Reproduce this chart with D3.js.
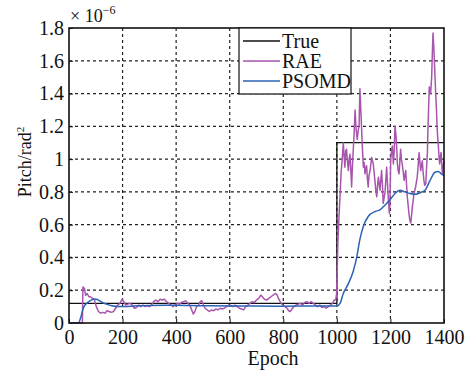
<!DOCTYPE html>
<html>
<head>
<meta charset="utf-8">
<script src="https://cdn.jsdelivr.net/npm/d3@7"></script>
<style>
  body { margin: 0; background: #fff; }
  svg text { font-family: "Liberation Serif", "DejaVu Serif", serif; fill: #111; }
</style>
</head>
<body>
<div id="chart"></div>
<script>
// tick labels
const xTicks = [0, 200, 400, 600, 800, 1000, 1200, 1400];
const yTicks = [0, 0.2, 0.4, 0.6, 0.8, 1.0, 1.2, 1.4, 1.6, 1.8];

// True (step)
const trueEpoch = [0, 1000, 1000, 1400];
const trueValue = [0.12, 0.12, 1.1, 1.1];

// RAE estimate (x 1e-6)
const raeEpoch = [0, 50, 52, 58, 62, 68, 74, 80, 88, 95, 102, 110, 118, 126, 134, 142, 150, 158, 166, 174,
  182, 190, 198, 204, 212, 220, 228, 236, 244, 252, 260, 268, 276, 284, 292, 300, 308, 316, 324, 332,
  340, 348, 356, 364, 372, 380, 388, 396, 404, 412, 420, 428, 436, 444, 452, 458, 464, 470, 476, 484,
  490, 496, 502, 508, 516, 524, 532, 540, 548, 556, 564, 572, 580, 588, 596, 604, 612, 620, 628, 636,
  644, 652, 660, 668, 676, 684, 692, 700, 708, 716, 722, 730, 738, 746, 754, 762, 770, 776, 782, 790,
  798, 806, 814, 820, 826, 832, 840, 848, 856, 864, 872, 880, 888, 896, 904, 912, 920, 928, 936, 944,
  952, 960, 968, 976, 984, 990, 996, 999,
  1001, 1004, 1008, 1012, 1016, 1020, 1024, 1027, 1030, 1033, 1036, 1040, 1043, 1046, 1049, 1052, 1055, 1058, 1061, 1064,
  1068, 1072, 1076, 1080, 1083, 1086, 1089, 1092, 1095, 1099, 1102, 1105, 1108, 1111, 1114, 1117, 1120, 1124, 1127, 1130,
  1133, 1136, 1139, 1142, 1146, 1149, 1152, 1155, 1158, 1161, 1164, 1167, 1170, 1173, 1176, 1180, 1183, 1186, 1189, 1192,
  1196, 1198, 1201, 1204, 1207, 1211, 1214, 1217, 1221, 1224, 1226, 1229, 1232, 1235, 1238, 1241, 1244, 1248, 1251, 1254,
  1257, 1260, 1263, 1266, 1269, 1272, 1276, 1279, 1282, 1285, 1288, 1291, 1294, 1297, 1300, 1304, 1307, 1310, 1313, 1316,
  1319, 1322, 1325, 1328, 1332, 1335, 1338, 1340, 1342, 1345, 1348, 1350, 1352, 1354, 1356, 1359, 1362, 1364, 1367, 1369,
  1372, 1374, 1377, 1379, 1382, 1384, 1387, 1389, 1392, 1394, 1397, 1400];
const raeValue = [0, 0, 0.22, 0.21, 0.17, 0.18, 0.16, 0.16, 0.15, 0.14, 0.10, 0.07, 0.06, 0.065, 0.06, 0.075, 0.07, 0.065, 0.07, 0.09,
  0.11, 0.12, 0.145, 0.13, 0.11, 0.115, 0.12, 0.11, 0.09, 0.095, 0.11, 0.10, 0.11, 0.10, 0.105, 0.10, 0.11, 0.13, 0.14, 0.13,
  0.145, 0.14, 0.145, 0.13, 0.12, 0.11, 0.10, 0.11, 0.12, 0.115, 0.125, 0.13, 0.135, 0.12, 0.105, 0.08, 0.055, 0.07, 0.10, 0.11,
  0.13, 0.136, 0.11, 0.09, 0.08, 0.07, 0.08, 0.075, 0.085, 0.08, 0.09, 0.085, 0.09, 0.10, 0.11, 0.105, 0.10, 0.11, 0.10, 0.09,
  0.085, 0.08, 0.10, 0.11, 0.12, 0.13, 0.125, 0.14, 0.15, 0.17, 0.16, 0.145, 0.14, 0.15, 0.16, 0.17, 0.18, 0.175, 0.15, 0.125,
  0.11, 0.10, 0.09, 0.075, 0.07, 0.085, 0.10, 0.11, 0.115, 0.12, 0.11, 0.125, 0.13, 0.12, 0.13, 0.12, 0.11, 0.10, 0.11, 0.095,
  0.10, 0.09, 0.10, 0.11, 0.12, 0.14, 0.14, 0.18,
  0.30, 0.50, 0.65, 0.78, 0.92, 1.00, 1.10, 1.02, 0.95, 1.05, 1.06, 0.98, 0.93, 1.00, 1.03, 0.94, 0.83, 0.95, 1.05, 1.14,
  1.30, 1.18, 1.12, 1.18, 1.20, 1.43, 1.32, 1.20, 1.08, 0.95, 0.98, 0.91, 0.94, 0.96, 0.88, 0.83, 0.90, 0.93, 0.97, 1.01,
  0.99, 0.97, 0.92, 0.87, 0.80, 0.77, 0.84, 0.89, 0.85, 0.81, 0.87, 0.93, 0.85, 0.73, 0.76, 0.80, 0.88, 0.95, 0.85, 0.76,
  0.67, 0.72, 0.99, 1.05, 1.08, 0.97, 1.05, 1.20, 1.14, 1.05, 0.97, 0.93, 0.91, 0.98, 1.06, 1.00, 0.97, 0.92, 0.87, 0.90,
  0.93, 0.85, 0.77, 0.72, 0.67, 0.63, 0.61, 0.66, 0.71, 0.75, 0.79, 0.81, 0.83, 0.86, 0.89, 0.97, 1.04, 0.98, 0.93, 0.96,
  0.99, 0.92, 0.87, 0.84, 0.85, 0.95, 1.04, 1.18, 1.28, 1.44, 1.42, 1.40, 1.45, 1.50, 1.62, 1.77, 1.68, 1.60, 1.48, 1.40,
  1.30, 1.20, 1.12, 1.08, 1.00, 0.97, 1.02, 1.04, 0.96, 0.91, 0.95, 0.99];

// PSOMD estimate (x 1e-6)
const psoEpoch = [0, 35, 45, 53, 60, 66, 78, 90, 98, 110, 125, 140, 160, 185, 210, 250, 300, 400, 500, 600,
  700, 800, 900, 1000, 1012, 1024, 1043, 1062, 1074, 1086, 1099, 1117, 1142, 1161, 1180, 1198, 1217, 1236, 1254, 1273,
  1292, 1310, 1329, 1348, 1366, 1379, 1390, 1400];
const psoValue = [0, 0, 0.04, 0.09, 0.11, 0.12, 0.135, 0.145, 0.147, 0.14, 0.125, 0.115, 0.105, 0.10, 0.10, 0.105, 0.107, 0.108, 0.105, 0.104,
  0.103, 0.102, 0.104, 0.104, 0.12, 0.18, 0.24, 0.32, 0.40, 0.51, 0.59, 0.65, 0.68, 0.69, 0.72, 0.75, 0.79, 0.81, 0.80, 0.79,
  0.785, 0.795, 0.81, 0.87, 0.92, 0.925, 0.91, 0.90];

const seriesNames = ["True", "RAE", "PSOMD"];
const seriesColors = ["#111111", "#a855ae", "#2d62b4"];

const W = 472, H = 373;
const margin = { top: 28, right: 28, bottom: 50, left: 69 };
const width = 444 - margin.left;
const height = 323 - margin.top;

const svg = d3.select("#chart").append("svg")
  .attr("width", W).attr("height", H);
const g = svg.append("g").attr("transform", `translate(${margin.left},${margin.top})`);

const x = d3.scaleLinear().domain([0, 1400]).range([0, width]);
const y = d3.scaleLinear().domain([0, 1.8]).range([height, 0]);

// dashed grid
g.append("g").selectAll("line.gx")
  .data(xTicks.slice(1, -1)).enter().append("line")
  .attr("x1", d => x(d)).attr("x2", d => x(d))
  .attr("y1", 0).attr("y2", height)
  .attr("stroke", "#222").attr("stroke-width", 1.2).attr("stroke-dasharray", "3,3");
g.append("g").selectAll("line.gy")
  .data(yTicks.slice(1, -1)).enter().append("line")
  .attr("y1", d => y(d)).attr("y2", d => y(d))
  .attr("x1", 0).attr("x2", width)
  .attr("stroke", "#222").attr("stroke-width", 1.2).attr("stroke-dasharray", "3,3");

// axes, inward ticks
const xAxis = g.append("g").attr("transform", `translate(0,${height})`)
  .call(d3.axisBottom(x).tickValues(xTicks).tickSizeInner(-4).tickSizeOuter(0).tickPadding(7)
    .tickFormat(d3.format("d")));
const yAxis = g.append("g")
  .call(d3.axisLeft(y).tickValues(yTicks).tickSizeInner(-4).tickSizeOuter(0).tickPadding(5)
    .tickFormat(d => String(+d.toFixed(1))));
[xAxis, yAxis].forEach(a => {
  a.select(".domain").remove();
  a.selectAll("line").attr("stroke", "#111");
  a.selectAll("text").style("font-size", "20px").attr("fill", "#111");
});

// lines
const line = d3.line().x(d => x(d[0])).y(d => y(d[1]));
const plot = g.append("g");
plot.append("path").datum(d3.zip(trueEpoch, trueValue))
  .attr("d", line).attr("fill", "none").attr("stroke", seriesColors[0]).attr("stroke-width", 1.3);
plot.append("path").datum(d3.zip(raeEpoch, raeValue))
  .attr("d", line).attr("fill", "none").attr("stroke", seriesColors[1]).attr("stroke-width", 1.5)
  .attr("stroke-linejoin", "round");
plot.append("path").datum(d3.zip(psoEpoch, psoValue))
  .attr("d", line.curve(d3.curveMonotoneX)).attr("fill", "none").attr("stroke", seriesColors[2]).attr("stroke-width", 1.5);

// frame
g.append("rect").attr("width", width).attr("height", height)
  .attr("fill", "none").attr("stroke", "#111").attr("stroke-width", 1.6);

// legend
const lg = svg.append("g").attr("transform", "translate(239,28)");
lg.append("rect").attr("width", 112).attr("height", 66)
  .attr("fill", "#fff").attr("stroke", "#111").attr("stroke-width", 1.2);
seriesNames.forEach((name, i) => {
  const yy = 13 + i * 20;
  lg.append("line").attr("x1", 4).attr("x2", 41).attr("y1", yy).attr("y2", yy)
    .attr("stroke", seriesColors[i]).attr("stroke-width", 1.5);
  lg.append("text").attr("x", 43).attr("y", yy + 6.5).style("font-size", "20px").text(name);
});

// exponent
const ex = svg.append("text").attr("x", 70).attr("y", 22).style("font-size", "18px");
ex.append("tspan").text("× 10");
ex.append("tspan").attr("dy", -8).style("font-size", "12px").text("−6");

// axis titles
svg.append("text").attr("x", 273).attr("y", 365).attr("text-anchor", "middle")
  .style("font-size", "20px").text("Epoch");
const yl = svg.append("text").attr("transform", "translate(31,162) rotate(-90)")
  .attr("text-anchor", "middle").style("font-size", "18px");
yl.append("tspan").text("Pitch/rad");
yl.append("tspan").attr("dy", -7).style("font-size", "11px").text("2");
</script>
</body>
</html>
